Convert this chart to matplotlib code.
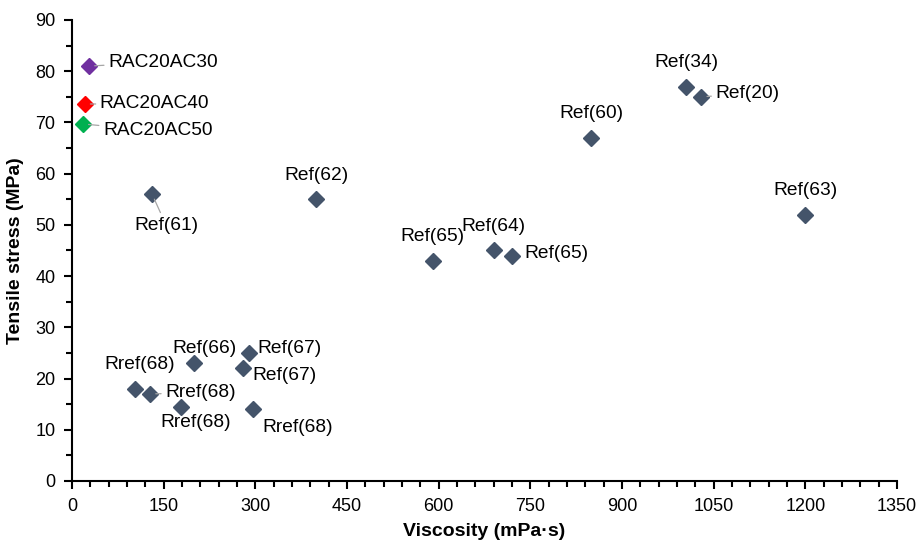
import matplotlib.pyplot as plt
from matplotlib.ticker import MultipleLocator

plt.rcParams['font.family'] = ['Liberation Sans', 'DejaVu Sans']

# Reference data (viscosity in mPa·s, tensile stress in MPa)
ref_labels = ['Ref(61)', 'Ref(62)', 'Ref(65)', 'Ref(64)', 'Ref(65)', 'Ref(60)',
              'Ref(34)', 'Ref(20)', 'Ref(63)', 'Ref(66)', 'Ref(67)', 'Ref(67)',
              'Rref(68)', 'Rref(68)', 'Rref(68)', 'Rref(68)']
ref_visc = [131, 400, 590, 690, 720, 850, 1005, 1030, 1200, 200, 290, 280,
            103, 128, 178, 296]
ref_stress = [56, 55, 43, 45, 44, 67, 77, 75, 52, 23, 25, 22, 18, 17, 14.4, 14]

# This work
rac_labels = ['RAC20AC30', 'RAC20AC40', 'RAC20AC50']
rac_visc = [28, 21, 18]
rac_stress = [81, 73.6, 69.7]
rac_colors = ['#7030A0', '#FF0000', '#00B050']

# label offsets in pixels (dx, dy, ha, leader line)
ref_offsets = [(14, -31, 'center', True), (0, 24, 'center', False),
               (0, 24, 'center', False), (0, 24, 'center', False),
               (12, 2, 'left', False), (0, 24, 'center', False),
               (0, 24, 'center', False), (14, 3, 'left', True),
               (0, 24, 'center', False), (10, 15, 'center', False),
               (8, 4, 'left', False), (9, -7, 'left', False),
               (5, 24, 'center', False), (15, 1, 'left', True),
               (15, -15, 'center', False), (9, -18, 'left', False)]
rac_offsets = [(19, 4), (15, 0), (20, -7)]

fig = plt.figure(figsize=(9.21, 5.40), dpi=100)
ax = fig.add_axes([0.0782, 0.1093, 0.8958, 0.8537])

ax.plot(ref_visc, ref_stress, linestyle='none', marker='D', markersize=7.8,
        color='#44546A', zorder=3)
for x, y, c in zip(rac_visc, rac_stress, rac_colors):
    ax.plot([x], [y], linestyle='none', marker='D', markersize=7.8, color=c, zorder=3)

line_style = dict(arrowstyle='-', color='#A6A6A6', lw=0.9, shrinkA=1, shrinkB=4)

for lab, x, y, (dx, dy, ha, lead) in zip(ref_labels, ref_visc, ref_stress, ref_offsets):
    ax.annotate(lab, xy=(x, y), xytext=(dx, dy), textcoords='offset pixels',
                ha=ha, va='center', fontsize=13.8, color='#000000',
                arrowprops=line_style if lead else None, zorder=4)

for lab, x, y, (dx, dy) in zip(rac_labels, rac_visc, rac_stress, rac_offsets):
    ax.annotate(lab, xy=(x, y), xytext=(dx, dy), textcoords='offset pixels',
                ha='left', va='center', fontsize=13.8, color='#000000',
                arrowprops=line_style, zorder=4)

ax.set_xlim(0, 1350)
ax.set_ylim(0, 90)
ax.xaxis.set_major_locator(MultipleLocator(150))
ax.xaxis.set_minor_locator(MultipleLocator(30))
ax.yaxis.set_major_locator(MultipleLocator(10))
ax.yaxis.set_minor_locator(MultipleLocator(5))

for s in ['top', 'right']:
    ax.spines[s].set_visible(False)
for s in ['left', 'bottom']:
    ax.spines[s].set_linewidth(1.5)
    ax.spines[s].set_color('black')

ax.tick_params(which='major', direction='out', length=6, width=1.5, labelsize=13, pad=6)
ax.tick_params(which='minor', direction='out', length=4, width=1.5)

ax.set_xlabel('Viscosity (mPa·s)', fontsize=14, fontweight='bold', labelpad=6)
ax.set_ylabel('Tensile stress (MPa)', fontsize=14, fontweight='bold', labelpad=8)

plt.savefig('out.png', dpi=100)
